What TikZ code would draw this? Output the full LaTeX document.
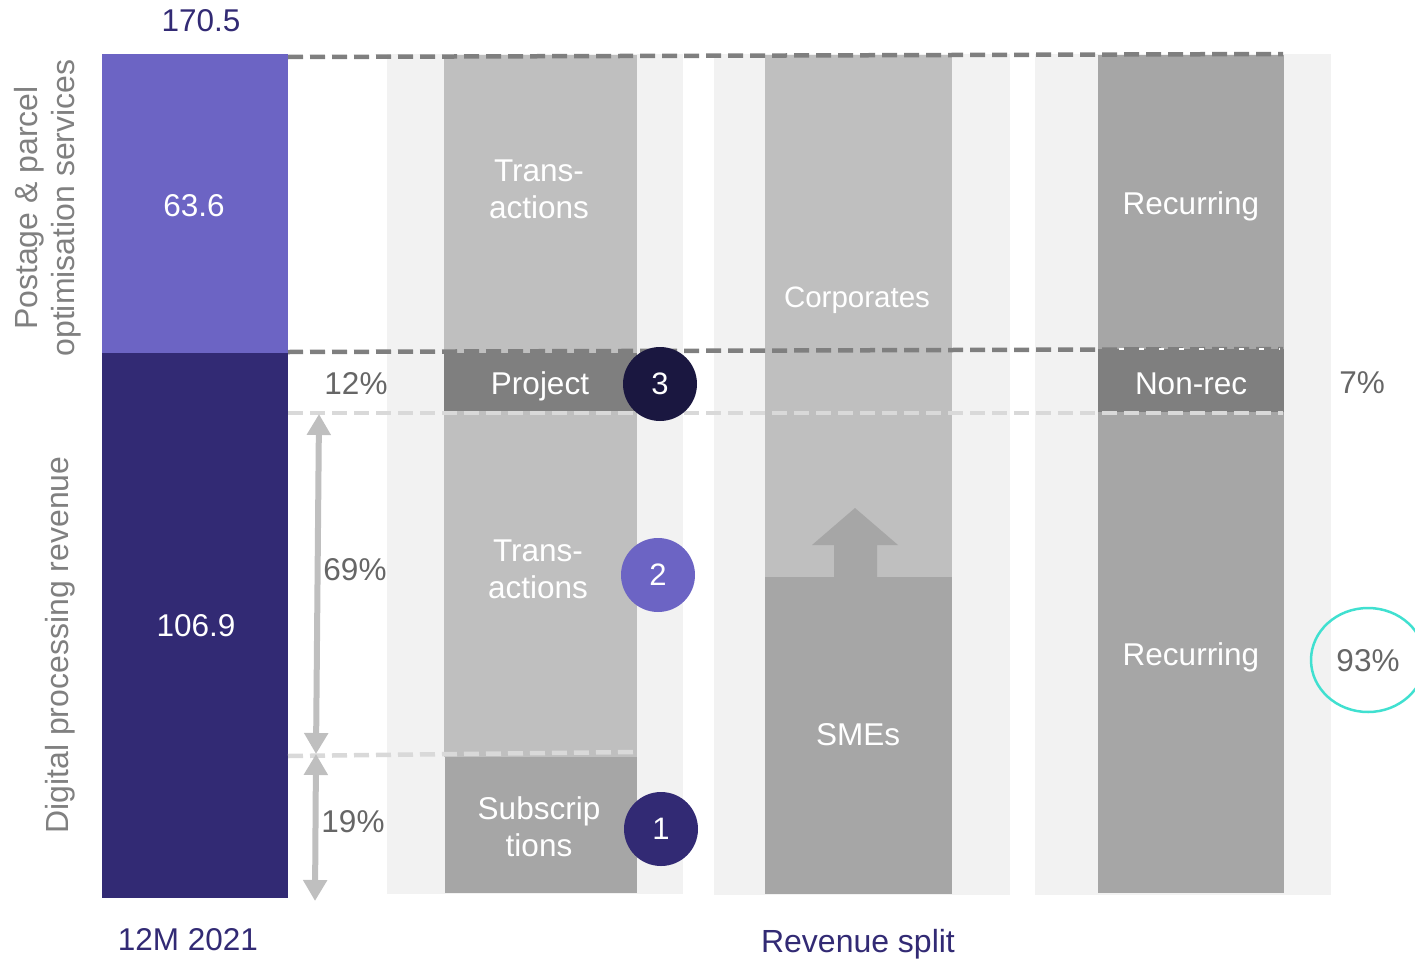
\documentclass[tikz,border=0pt]{standalone}
\usepackage{fontspec}
\setmainfont{Liberation Sans}
\usetikzlibrary{arrows.meta}
\definecolor{purp}{RGB}{108,100,196}
\definecolor{navy}{RGB}{50,42,116}
\definecolor{ink}{RGB}{26,23,64}
\definecolor{panelbg}{RGB}{242,242,242}
\definecolor{lgray}{RGB}{191,191,191}
\definecolor{mgray}{RGB}{166,166,166}
\definecolor{dgray}{RGB}{127,127,127}
\definecolor{dashl}{RGB}{217,217,217}
\definecolor{txtgray}{RGB}{102,102,102}
\definecolor{axgray}{RGB}{128,128,128}
\definecolor{turq}{RGB}{64,224,208}
\begin{document}
\begin{tikzpicture}[x=1pt,y=-1pt,
  lbl/.style={font=\fontsize{31.5}{37}\selectfont, inner sep=0pt, align=center},
  wlbl/.style={lbl, text=white},
  glbl/.style={lbl, text=txtgray},
  tlbl/.style={lbl, text=navy},
  alb/.style={lbl, text=axgray, rotate=90, font=\fontsize{32}{37}\selectfont},
  darkdash/.style={draw=dgray, line width=4.5pt, dash pattern=on 15pt off 7pt},
  lightdash/.style={draw=dashl, line width=4.5pt, dash pattern=on 15pt off 7pt},
  dimarrow/.style={draw=lgray, line width=6pt, {Triangle[width=23pt,length=21pt]}-{Triangle[width=23pt,length=21pt]}},
  badge/.style={circle, minimum size=74pt, inner sep=0pt, font=\fontsize{31}{37}\selectfont, text=white}
]
\useasboundingbox (0,0) rectangle (1415,961);
% panel backgrounds
\fill[panelbg] (387,54) rectangle (683,894);
\fill[panelbg] (714,54) rectangle (1010,895);
\fill[panelbg] (1035,54) rectangle (1331,895);
% left stacked bar
\fill[purp] (102,54) rectangle (288,353);
\fill[navy] (102,353) rectangle (288,898);
% panel 1 bars
\fill[lgray] (444,55) rectangle (637,353);
\fill[dgray] (444,353) rectangle (637,411);
\fill[lgray] (444,411) rectangle (637,757);
\fill[mgray] (445,757) rectangle (637,893);
% panel 2 bars
\fill[lgray] (765,55) rectangle (952,577);
\fill[mgray] (765,577) rectangle (952,894);
\fill[mgray] (834,578) -- (834,545) -- (812,545) -- (855,508) -- (898,545) -- (877,545) -- (877,578) -- cycle;
% panel 3 bars
\fill[mgray] (1098,55) rectangle (1284,349);
\fill[dgray] (1098,349) rectangle (1284,412);
\fill[mgray] (1098,412) rectangle (1284,893);
% dashed guide lines
\draw[darkdash] (288,57) -- (1283,54);
\draw[darkdash] (288,352) -- (1283,349);
\draw[white, line width=1.5pt, dash pattern=on 5pt off 15pt] (1119,349) -- (1280,349);
\draw[lightdash] (288,413) -- (1283,413);
\draw[lightdash] (288,756) -- (637,752);
% dimension arrows
\coordinate (a1) at (319,414);
\coordinate (a2) at (316,754);
\coordinate (a3) at (316,754);
\coordinate (a4) at (315,901);
\draw[dimarrow] (a1) -- (a2);
\draw[dimarrow] (a3) -- (a4);
% badges
\node[badge, fill=ink] (b3) at (660,384) {3};
\node[badge, fill=purp] (b2) at (658,575) {2};
\node[badge, fill=navy] (b1) at (661,829) {1};
% turquoise ellipse
\draw[turq, line width=2.5pt] (1368,660) ellipse [x radius=57pt, y radius=52pt];
% labels on bars
\node[wlbl] (v1) at (194,206) {63.6};
\node[wlbl] (v2) at (196,626) {106.9};
\node[wlbl] (t1) at (539,189) {Trans-\\actions};
\node[wlbl] (p1) at (540,386) {Project};
\node[wlbl] (t2) at (538,569) {Trans-\\actions};
\node[wlbl] (s1) at (539,827) {Subscrip\\tions};
\node[wlbl, font=\fontsize{29.5}{35}\selectfont] (c1) at (857,300) {Corporates};
\node[wlbl] (m1) at (858,735) {SMEs};
\node[wlbl] (r1) at (1191,206) {Recurring};
\node[wlbl] (n1) at (1191,384) {Non-rec};
\node[wlbl] (r2) at (1191,657) {Recurring};
% percentages
\node[glbl] (q1) at (356,384) {12\%};
\node[glbl] (q2) at (355,570) {69\%};
\node[glbl] (q3) at (353,822) {19\%};
\node[glbl] (q4) at (1362,383) {7\%};
\node[glbl] (q5) at (1368,661) {93\%};
% titles
\node[tlbl] (h1) at (201,21) {170.5};
\node[tlbl] (h2) at (188,940) {12M 2021};
\node[tlbl, font=\fontsize{32}{38}\selectfont] (h3) at (858,944) {Revenue split};
% axis labels
\node[alb] (y1) at (48,208) {Postage \& parcel\\optimisation services};
\node[alb] (y2) at (60,645) {Digital processing revenue};
\end{tikzpicture}
\end{document}
